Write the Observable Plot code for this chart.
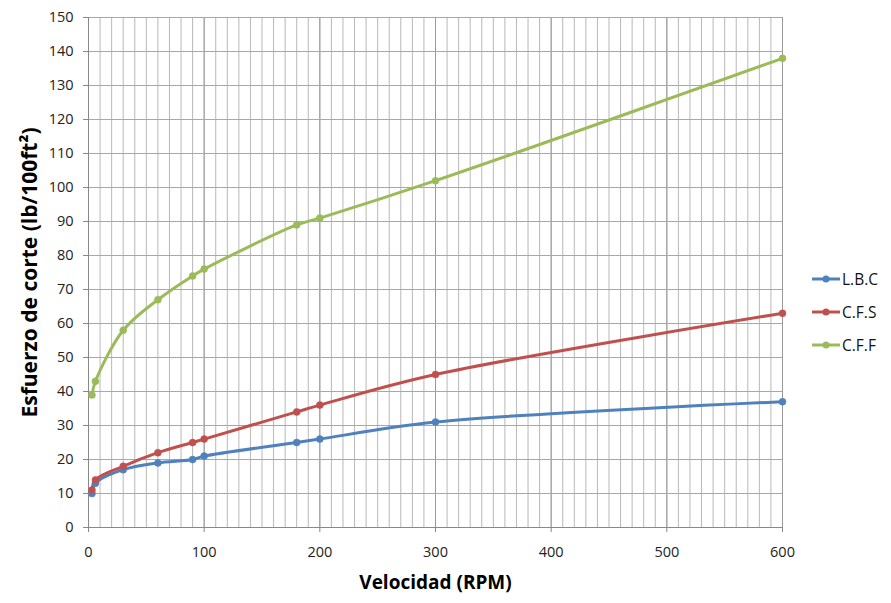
<!DOCTYPE html>
<html>
<head>
<meta charset="utf-8">
<script src="https://cdn.jsdelivr.net/npm/d3@7"></script>
<script src="https://cdn.jsdelivr.net/npm/@observablehq/plot@0.6"></script>
<style>
  html, body { margin: 0; padding: 0; background: #fff; }
  #wrap { position: relative; width: 891px; height: 603px; font-family: "Open Sans", sans-serif; }
  #wrap svg [aria-label="y-axis label"] text { font-weight: bold; font-size: 21px; fill: #000; }
  #wrap svg [aria-label="x-axis label"] text { font-weight: bold; font-size: 19px; fill: #000; }
  .legend { position: absolute; left: 812px; top: 262px; font-size: 15.5px; color: #111; }
  .legend .item { display: flex; align-items: center; height: 33px; }
  .legend svg { margin-right: 2px; }
</style>
</head>
<body>
<div id="wrap"></div>
<script>
const rpm = [3, 6, 30, 60, 90, 100, 180, 200, 300, 600];
const seriesNames = ["L.B.C", "C.F.S", "C.F.F"];
const lbc = [10, 13, 17, 19, 20, 21, 25, 26, 31, 37];
const cfs = [11, 14, 18, 22, 25, 26, 34, 36, 45, 63];
const cff = [39, 43, 58, 67, 74, 76, 89, 91, 102, 138];
const colors = ["#4F81BD", "#C0504D", "#9BBB59"];
const xTicks = [0, 100, 200, 300, 400, 500, 600];
const yTicks = d3.range(0, 151, 10);
const xMinor = d3.range(0, 601, 10);

const values = [lbc, cfs, cff];
const data = [];
seriesNames.forEach((s, i) => rpm.forEach((x, j) => data.push({series: s, x, y: values[i][j]})));

const chart = Plot.plot({
  width: 891,
  height: 603,
  marginLeft: 88,
  marginRight: 109,
  marginTop: 17,
  marginBottom: 76,
  style: {fontFamily: "Open Sans, sans-serif", fontSize: "14.5px", color: "#222", background: "#fff"},
  x: {domain: [0, 600]},
  y: {domain: [0, 150]},
  color: {domain: seriesNames, range: colors},
  marks: [
    Plot.gridX(xMinor, {stroke: "#b8b8b8", strokeOpacity: 1, strokeWidth: 1}),
    Plot.gridX(xTicks, {stroke: "#999", strokeOpacity: 1, strokeWidth: 1}),
    Plot.gridY(yTicks, {stroke: "#a8a8a8", strokeOpacity: 1, strokeWidth: 1}),
    Plot.ruleY([0], {stroke: "#888"}),
    Plot.ruleX([0], {stroke: "#888"}),
    Plot.axisY(yTicks, {tickSize: 5, tickPadding: 10, stroke: "#888", fontSize: 14.5,
      label: "Esfuerzo de corte (lb/100ft²)", labelAnchor: "center", labelOffset: 66, labelArrow: "none"}),
    Plot.axisX(xTicks, {tickSize: 5, tickPadding: 14, stroke: "#888", fontSize: 14.5,
      label: "Velocidad (RPM)", labelAnchor: "center", labelOffset: 61, labelArrow: "none"}),
    Plot.line(data, {x: "x", y: "y", z: "series", stroke: "series", strokeWidth: 3, curve: "catmull-rom"}),
    Plot.dot(data, {x: "x", y: "y", fill: "series", r: 3.5, stroke: "series", strokeWidth: 0.5})
  ]
});
const wrap = document.getElementById("wrap");
wrap.appendChild(chart);

const legend = document.createElement("div");
legend.className = "legend";
seriesNames.forEach((s, i) => {
  const it = document.createElement("div");
  it.className = "item";
  it.innerHTML = `<svg width="28" height="10"><line x1="0" y1="5" x2="28" y2="5" stroke="${colors[i]}" stroke-width="3"/><circle cx="14" cy="5" r="3.5" fill="${colors[i]}"/></svg><span>${s}</span>`;
  legend.appendChild(it);
});
wrap.appendChild(legend);
</script>
</body>
</html>
